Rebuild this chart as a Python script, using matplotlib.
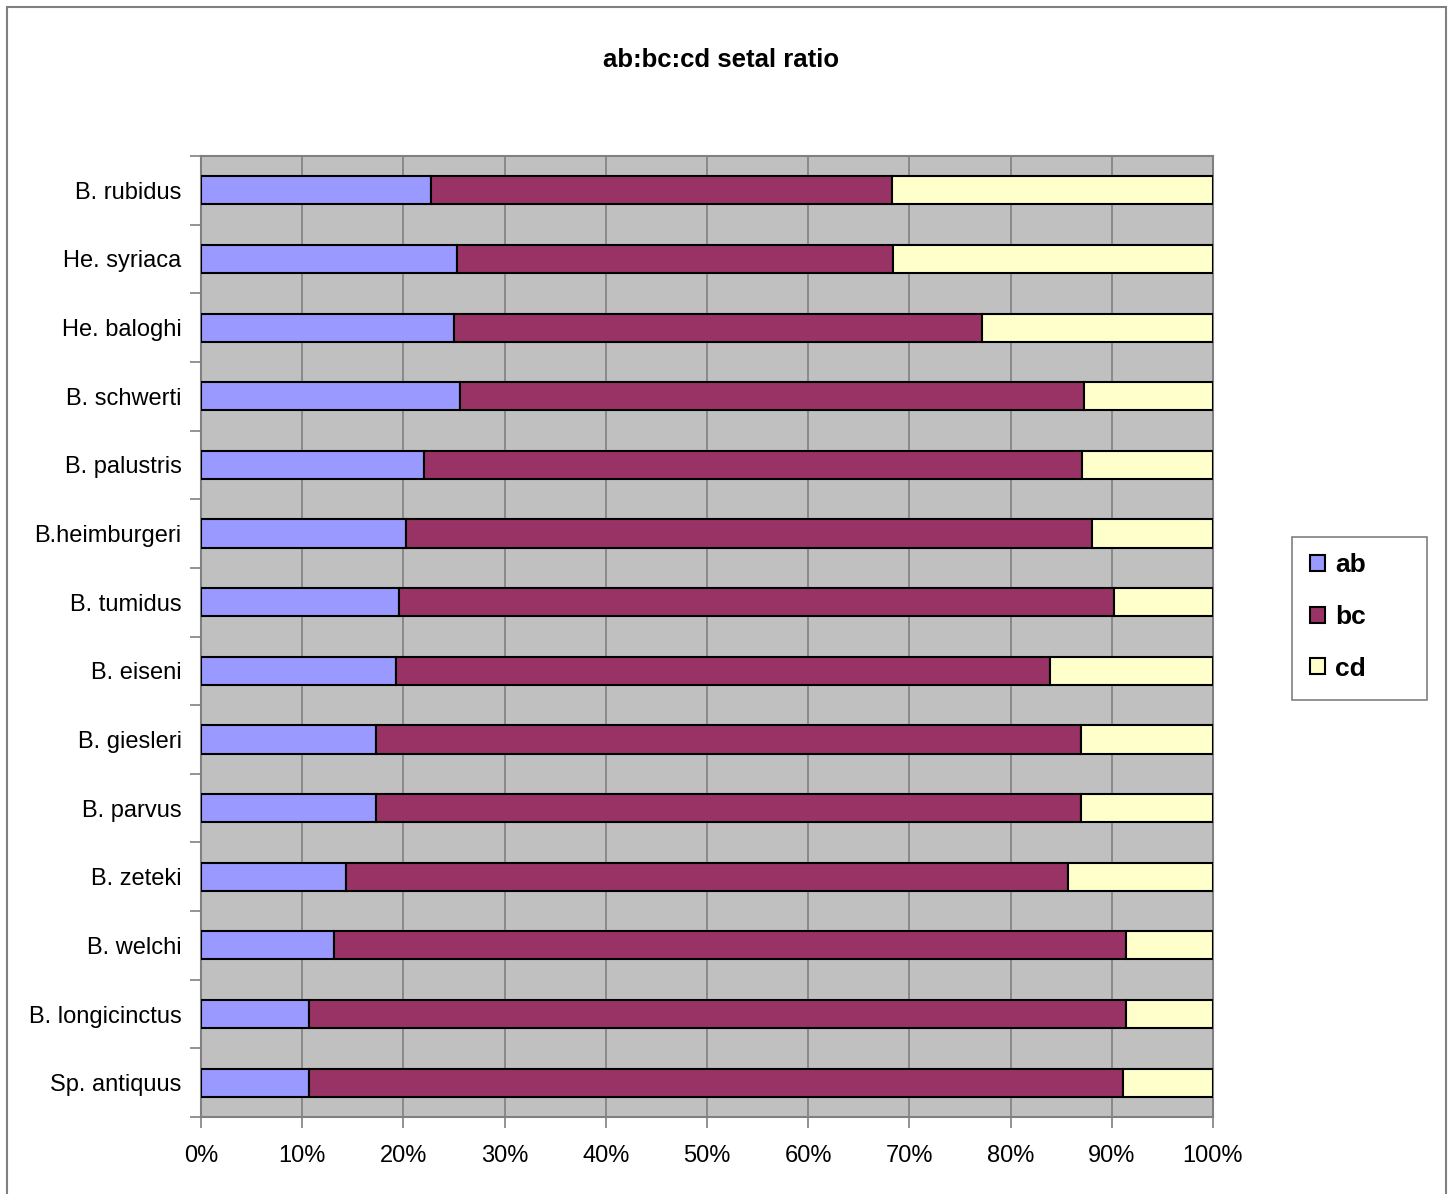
import matplotlib
matplotlib.use("Agg")
import matplotlib.pyplot as plt
import numpy as np
from matplotlib.patches import Rectangle

plt.rcParams['font.family'] = ['Liberation Sans', 'DejaVu Sans']

species = ["B. rubidus", "He. syriaca", "He. baloghi", "B. schwerti", "B. palustris",
           "B.heimburgeri", "B. tumidus", "B. eiseni", "B. giesleri", "B. parvus",
           "B. zeteki", "B. welchi", "B. longicinctus", "Sp. antiquus"]
ab = [22.7, 25.3, 25.0, 25.6, 22.0, 20.3, 19.6, 19.3, 17.3, 17.3, 14.3, 13.1, 10.7, 10.7]
bc_end = [68.3, 68.4, 77.2, 87.3, 87.1, 88.0, 90.2, 83.9, 87.0, 87.0, 85.7, 91.4, 91.4, 91.1]
bc = [e - a for a, e in zip(ab, bc_end)]
cd = [100 - e for e in bc_end]
series = ["ab", "bc", "cd"]
colors = ["#9999ff", "#993366", "#ffffcc"]
xticks = list(range(0, 101, 10))

W, H = 1450, 1194
fig = plt.figure(figsize=(W/100, H/100), dpi=100)
# outer chart border (bottom edge falls off the image)
fig.patches.append(Rectangle((7/W, -0.01), 1439/W, 1.01 - 7/H, transform=fig.transFigure,
                             fill=False, edgecolor="#808080", linewidth=1.5))
# legend frame
fig.patches.append(Rectangle((1292/W, 1 - 700/H), 135/W, 163/H, transform=fig.transFigure,
                             fill=False, edgecolor="#808080", linewidth=1.2))

ax = fig.add_axes([201/W, 1 - 1117/H, 1012/W, (1117-156)/H])
ax.set_facecolor("#c0c0c0")

y = np.arange(len(species))
left = np.zeros(len(species))
for name, vals, col in zip(series, [ab, bc, cd], colors):
    ax.barh(y, vals, left=left, height=0.41, color=col, edgecolor="black",
            linewidth=1.5, label=name, zorder=3)
    left += np.array(vals)

ax.set_xlim(0, 100)
ax.set_ylim(len(species) - 0.5, -0.5)
ax.set_xticks(xticks)
ax.set_xticklabels([f"{t}%" for t in xticks], fontsize=17)
ax.set_yticks(y)
ax.set_yticklabels(species, fontsize=17)
ax.set_yticks(np.arange(-0.5, len(species), 1), minor=True)
ax.tick_params(axis='y', which='major', length=0, pad=14)
ax.tick_params(axis='y', which='minor', length=8, color="#808080", width=1.2)
ax.tick_params(axis='x', length=8, color="#808080", width=1.2, pad=12)
ax.xaxis.grid(True, color="#808080", linewidth=1.2, zorder=1)
ax.set_axisbelow(True)
for s in ax.spines.values():
    s.set_color("#808080")
    s.set_linewidth(1.5)

fig.text(721/W, 1 - 60/H, "ab:bc:cd setal ratio", fontsize=18.5, fontweight="bold",
         ha="center", va="center")

leg = ax.legend(loc="center left", bbox_to_anchor=(1297/W, 1 - 617/H),
                bbox_transform=fig.transFigure, frameon=False,
                prop={'size': 19, 'weight': 'bold'}, handlelength=0.55, handleheight=0.55,
                labelspacing=1.05, borderpad=0.5, handletextpad=0.4, borderaxespad=0)
for h in leg.legend_handles:
    h.set_linewidth(1.5)

fig.savefig("out.png", dpi=100)
